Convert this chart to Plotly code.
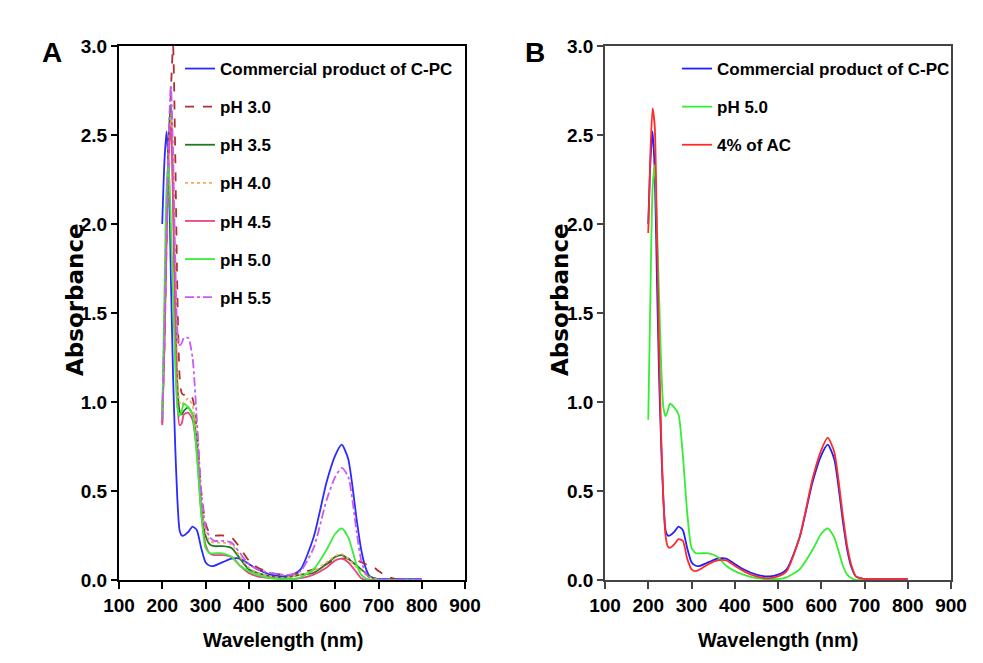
import plotly.graph_objects as go

# ---------------- data ----------------
wavelength = [200, 205, 210, 215, 220, 225, 230, 235, 240, 245, 250, 260, 270, 280, 290,
              300, 310, 320, 340, 360, 380, 400, 420, 450, 480, 500, 520, 550, 580, 600,
              615, 630, 650, 660, 670, 680, 690, 700, 720, 750, 800]

commercial = [2.00, 2.35, 2.52, 2.30, 1.70, 1.15, 0.75, 0.45, 0.28, 0.25, 0.25, 0.27, 0.30, 0.28, 0.18,
              0.10, 0.08, 0.08, 0.10, 0.12, 0.12, 0.09, 0.06, 0.03, 0.02, 0.03, 0.06, 0.24, 0.55, 0.70,
              0.76, 0.68, 0.33, 0.17, 0.07, 0.02, 0.01, 0.005, 0.005, 0.005, 0.005]

ph30 = [0.88, 1.30, 1.90, 2.40, 2.75, 3.00, 2.40, 1.60, 1.15, 1.05, 1.04, 1.05, 1.02, 0.85, 0.50,
        0.32, 0.26, 0.25, 0.25, 0.24, 0.18, 0.11, 0.07, 0.04, 0.03, 0.03, 0.04, 0.06, 0.09, 0.11,
        0.12, 0.12, 0.11, 0.10, 0.09, 0.08, 0.07, 0.05, 0.02, 0.00, 0.00]

ph35 = [0.93, 1.40, 2.00, 2.50, 2.67, 2.20, 1.55, 1.10, 0.95, 0.93, 0.95, 0.97, 0.93, 0.78, 0.42,
        0.25, 0.20, 0.19, 0.19, 0.18, 0.12, 0.06, 0.04, 0.02, 0.01, 0.02, 0.03, 0.04, 0.09, 0.13,
        0.14, 0.12, 0.08, 0.06, 0.04, 0.02, 0.01, 0.00, 0.00, 0.00, 0.00]

ph40 = [0.90, 1.35, 1.95, 2.45, 2.62, 2.25, 1.60, 1.15, 1.00, 0.98, 1.00, 1.02, 0.98, 0.82, 0.45,
        0.27, 0.22, 0.21, 0.21, 0.20, 0.13, 0.07, 0.04, 0.02, 0.01, 0.02, 0.03, 0.05, 0.10, 0.135,
        0.145, 0.12, 0.07, 0.05, 0.03, 0.015, 0.01, 0.00, 0.00, 0.00, 0.00]

ph45 = [0.87, 1.30, 1.90, 2.40, 2.55, 2.10, 1.45, 1.00, 0.87, 0.88, 0.93, 0.94, 0.90, 0.72, 0.38,
        0.20, 0.15, 0.14, 0.14, 0.13, 0.08, 0.04, 0.02, 0.01, 0.005, 0.005, 0.01, 0.03, 0.07, 0.11,
        0.12, 0.10, 0.04, 0.01, 0.00, 0.00, 0.00, 0.00, 0.00, 0.00, 0.00]

ph50 = [0.90, 1.60, 2.20, 2.33, 2.00, 1.60, 1.20, 0.97, 0.92, 0.95, 0.99, 0.97, 0.93, 0.70, 0.38,
        0.18, 0.15, 0.15, 0.15, 0.13, 0.08, 0.05, 0.03, 0.01, 0.005, 0.005, 0.015, 0.06, 0.17, 0.26,
        0.29, 0.24, 0.08, 0.03, 0.01, 0.00, 0.00, 0.00, 0.00, 0.00, 0.00]

ph55 = [0.90, 1.40, 2.00, 2.50, 2.78, 2.40, 1.80, 1.40, 1.32, 1.33, 1.36, 1.36, 1.25, 0.90, 0.50,
        0.30, 0.24, 0.22, 0.22, 0.21, 0.15, 0.09, 0.06, 0.04, 0.03, 0.03, 0.05, 0.18, 0.45, 0.58,
        0.63, 0.58, 0.26, 0.11, 0.04, 0.01, 0.005, 0.00, 0.00, 0.00, 0.00]

ac4 = [1.95, 2.40, 2.65, 2.55, 1.95, 1.30, 0.80, 0.45, 0.25, 0.19, 0.18, 0.20, 0.23, 0.22, 0.12,
       0.06, 0.05, 0.06, 0.09, 0.11, 0.11, 0.08, 0.05, 0.02, 0.01, 0.02, 0.05, 0.24, 0.57, 0.73,
       0.80, 0.72, 0.36, 0.19, 0.08, 0.02, 0.01, 0.005, 0.005, 0.005, 0.005]

x_ticks = [100, 200, 300, 400, 500, 600, 700, 800, 900]
y_ticks = [0.0, 0.5, 1.0, 1.5, 2.0, 2.5, 3.0]

series_a = [
    ("Commercial product of C-PC", commercial, "#2B2BFF", "solid"),
    ("pH 3.0", ph30, "#B03030", "dash"),
    ("pH 3.5", ph35, "#1F7A1F", "solid"),
    ("pH 4.0", ph40, "#F7A860", "dot"),
    ("pH 4.5", ph45, "#E8457E", "solid"),
    ("pH 5.0", ph50, "#3CEB3C", "solid"),
    ("pH 5.5", ph55, "#C85BF5", "dashdot"),
]
series_b = [
    ("Commercial product of C-PC", commercial, "#2020FF", "solid"),
    ("pH 5.0", ph50, "#33EE33", "solid"),
    ("4% of AC", ac4, "#FF2A2A", "solid"),
]

SANS = "Liberation Sans, Arial, sans-serif"
WIDE = "DejaVu Sans, Arial, sans-serif"

fig = go.Figure()
for name, ys, col, dash in series_a:
    fig.add_trace(go.Scatter(x=wavelength, y=ys, name=name, mode="lines",
                             line=dict(color=col, width=1.8, dash=dash, shape="spline", smoothing=0.6),
                             xaxis="x", yaxis="y", legend="legend", legendgroup="a" + name))
for name, ys, col, dash in series_b:
    fig.add_trace(go.Scatter(x=wavelength, y=ys, name=name, mode="lines",
                             line=dict(color=col, width=1.8, dash=dash, shape="spline", smoothing=0.6),
                             xaxis="x2", yaxis="y2", legend="legend2", legendgroup="b" + name))

# page body has an 8px margin: figure is sized so the page fits the window exactly
OFF = 8
W, H = 983 - 2 * OFF, 663 - 2 * OFF

def px(x):
    return (x - OFF) / W

def py(y):
    return (H - (y - OFF)) / H

tickfont = dict(family=SANS, size=19, color="black", weight="bold")

def xa(domain, anchor, lc, lw):
    return dict(domain=domain, anchor=anchor, range=[100, 900], tickvals=x_ticks,
                ticktext=[str(v) for v in x_ticks], showgrid=False, zeroline=False,
                showline=True, linecolor=lc, linewidth=lw, mirror=True,
                ticks="outside", ticklen=7, tickwidth=1.5, tickcolor=lc,
                tickfont=tickfont, automargin=False)

def ya(anchor, lc, lw):
    return dict(domain=[py(580), py(46)], anchor=anchor, range=[0, 3], tickvals=y_ticks,
                ticktext=["%.1f" % v for v in y_ticks], showgrid=False, zeroline=False,
                showline=True, linecolor=lc, linewidth=lw, mirror=True,
                ticks="outside", ticklen=6, tickwidth=1.5, tickcolor=lc,
                tickfont=tickfont, automargin=False)

legfont = dict(family=SANS, size=17, color="black", weight="bold")

fig.update_layout(
    width=W, height=H,
    margin=dict(l=0, r=0, t=0, b=0),
    paper_bgcolor="white", plot_bgcolor="white",
    xaxis=xa([px(119), px(465)], "y", "black", 2),
    yaxis=ya("x", "black", 2),
    xaxis2=xa([px(605), px(951)], "y2", "#444444", 1.5),
    yaxis2=ya("x2", "#444444", 1.5),
    legend=dict(x=px(180), y=py(51), xanchor="left", yanchor="top",
                bgcolor="rgba(0,0,0,0)", font=legfont, tracegroupgap=13,
                traceorder="grouped"),
    legend2=dict(x=px(677), y=py(51), xanchor="left", yanchor="top",
                 bgcolor="rgba(0,0,0,0)", font=legfont, tracegroupgap=13,
                 traceorder="grouped"),
    showlegend=True,
)

annots = [
    dict(text="A", x=px(52), y=py(52), font=dict(family=SANS, size=28, weight="bold")),
    dict(text="B", x=px(535), y=py(52), font=dict(family=SANS, size=28, weight="bold")),
    dict(text="Absorbance", x=px(75), y=py(300), textangle=-90,
         font=dict(family=WIDE, size=23, weight="bold")),
    dict(text="Absorbance", x=px(560), y=py(300), textangle=-90,
         font=dict(family=WIDE, size=23, weight="bold")),
    dict(text="Wavelength (nm)", x=px(283), y=py(640),
         font=dict(family=SANS, size=20, weight="bold")),
    dict(text="Wavelength (nm)", x=px(778), y=py(640),
         font=dict(family=SANS, size=20, weight="bold")),
]
for a in annots:
    a.update(xref="paper", yref="paper", showarrow=False, xanchor="center", yanchor="middle")
    a["font"]["color"] = "black"
fig.update_layout(annotations=annots)

fig.write_html("out.html")
